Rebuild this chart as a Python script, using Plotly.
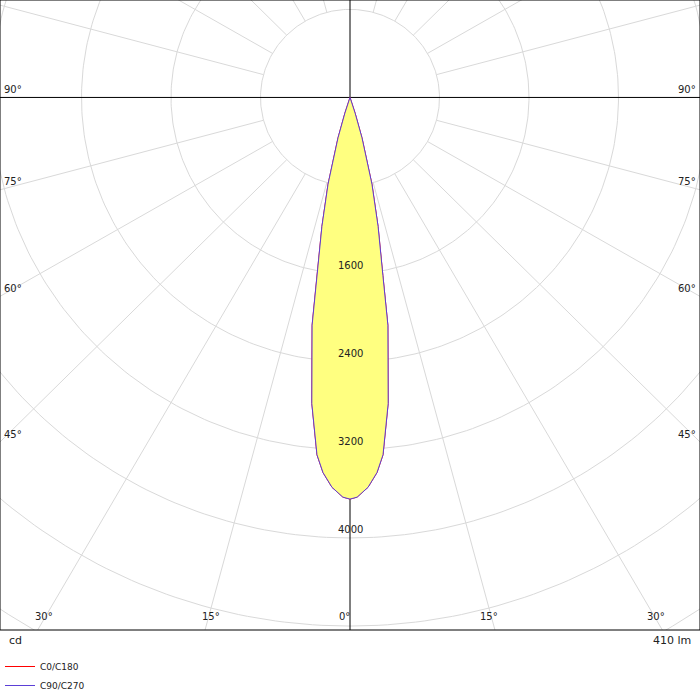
import numpy as np
import plotly.graph_objects as go

# Luminous intensity distribution (cd) vs angle (deg)
angles = [0, 1.0, 2.6, 4.05, 5.2, 7.0, 9.3, 10.3, 12.1, 14.0, 16.3, 17.8, 19.0]
cd_c0 = [3647, 3630, 3544, 3415, 3258, 2800, 2095, 1645, 1198, 811, 382, 150, 0]
cd_c90 = cd_c0
ring_values = [800, 1600, 2400, 3200, 4000, 4800, 5600, 6400]
ring_labels = ["1600", "2400", "3200", "4000"]
angle_ticks = [0, 15, 30, 45, 60, 75, 90]

K = 800 / 89.5  # cd per pixel
W, H = 700, 640
CX, CY = 350, 99

def xy(th, r):
    th = np.radians(np.asarray(th, float))
    r = np.asarray(r, float)
    return r * np.sin(th), -r * np.cos(th)

fig = go.Figure()
gc = "#d9d9d9"
t = np.linspace(0, 360, 361)
for rv in ring_values:
    x, y = xy(t, [rv] * len(t))
    fig.add_trace(go.Scatter(x=x, y=y, mode="lines", line=dict(color=gc, width=1), hoverinfo="skip", showlegend=False))
for a in range(0, 360, 15):
    if a % 90 == 0:
        continue
    x, y = xy([a, a], [800, 9000])
    fig.add_trace(go.Scatter(x=x, y=y, mode="lines", line=dict(color=gc, width=1), hoverinfo="skip", showlegend=False))
fig.add_trace(go.Scatter(x=[-W*K, W*K], y=[0, 0], mode="lines", line=dict(color="black", width=1), hoverinfo="skip", showlegend=False))
fig.add_trace(go.Scatter(x=[0, 0], y=[CY*K, -(H-CY)*K], mode="lines", line=dict(color="black", width=1), hoverinfo="skip", showlegend=False))

def closed(cd):
    th = [-a for a in angles[::-1]] + angles[1:]
    r = cd[::-1] + cd[1:]
    return xy(th, r)

x, y = closed(cd_c0)
fig.add_trace(go.Scatter(x=x, y=y, mode="lines", line=dict(color="red", width=1), name="C0/C180"))
x, y = closed(cd_c90)
fig.add_trace(go.Scatter(x=x, y=y, mode="lines", fill="toself", fillcolor="rgba(255,255,128,1)",
                         line=dict(color="#5b3fd6", width=1), showlegend=False))
fig.add_trace(go.Scatter(x=[None], y=[None], mode="lines", line=dict(color="#5b3fd6", width=1), name="C90/C270"))

fnt = dict(family="DejaVu Sans", size=10, color="#222")
for lab in ring_labels:
    v = float(lab)
    fig.add_annotation(x=0, y=-v, text=lab, showarrow=False, yanchor="bottom", yshift=1, font=fnt)

for a in angle_ticks:
    th = np.radians(a)
    if a >= 45:
        dy = CX / np.tan(th) if a < 90 else 0
        py = CY + dy - 8
        for s, xa in ((-1, "left"), (1, "right")):
            fig.add_annotation(x=s * (CX - 2) * K, y=-(py - CY) * K, text=f"{a}°", showarrow=False,
                               xanchor=xa, font=fnt)
    else:
        dx = (H - CY) * np.tan(th) - 6
        for s in ((-1, 1) if a else (1,)):
            fig.add_annotation(x=s * dx * K, y=-(H - 14 - CY) * K, text=f"{a}°", showarrow=False, font=fnt)

fig.add_annotation(xref="paper", yref="paper", x=0.01, y=-0.003, text="cd", showarrow=False, xanchor="left", yanchor="top", font=dict(family="DejaVu Sans", size=11, color="#222"))
fig.add_annotation(xref="paper", yref="paper", x=0.99, y=-0.003, text="410 lm", showarrow=False, xanchor="right", yanchor="top", font=dict(family="DejaVu Sans", size=11, color="#222"))

fig.update_xaxes(range=[-CX * K, (W - CX) * K], visible=False, fixedrange=True)
fig.update_yaxes(range=[-(H - CY) * K, CY * K], visible=False, fixedrange=True)
fig.update_layout(
    width=700, height=700, margin=dict(l=0, r=0, t=0, b=60),
    plot_bgcolor="white", paper_bgcolor="white",
    legend=dict(x=0.0, y=-0.035, xanchor="left", yanchor="top", font=dict(family="DejaVu Sans", size=9, color="#222"),
                tracegroupgap=0, itemwidth=30, bgcolor="rgba(0,0,0,0)"),
    shapes=[dict(type="rect", xref="paper", yref="paper", x0=0, y0=0, x1=1, y1=1, line=dict(color="black", width=1))],
)
fig.write_html("out.html", config={"displayModeBar": False},
               post_script="document.body.style.margin='0';document.body.style.overflow='hidden';")
